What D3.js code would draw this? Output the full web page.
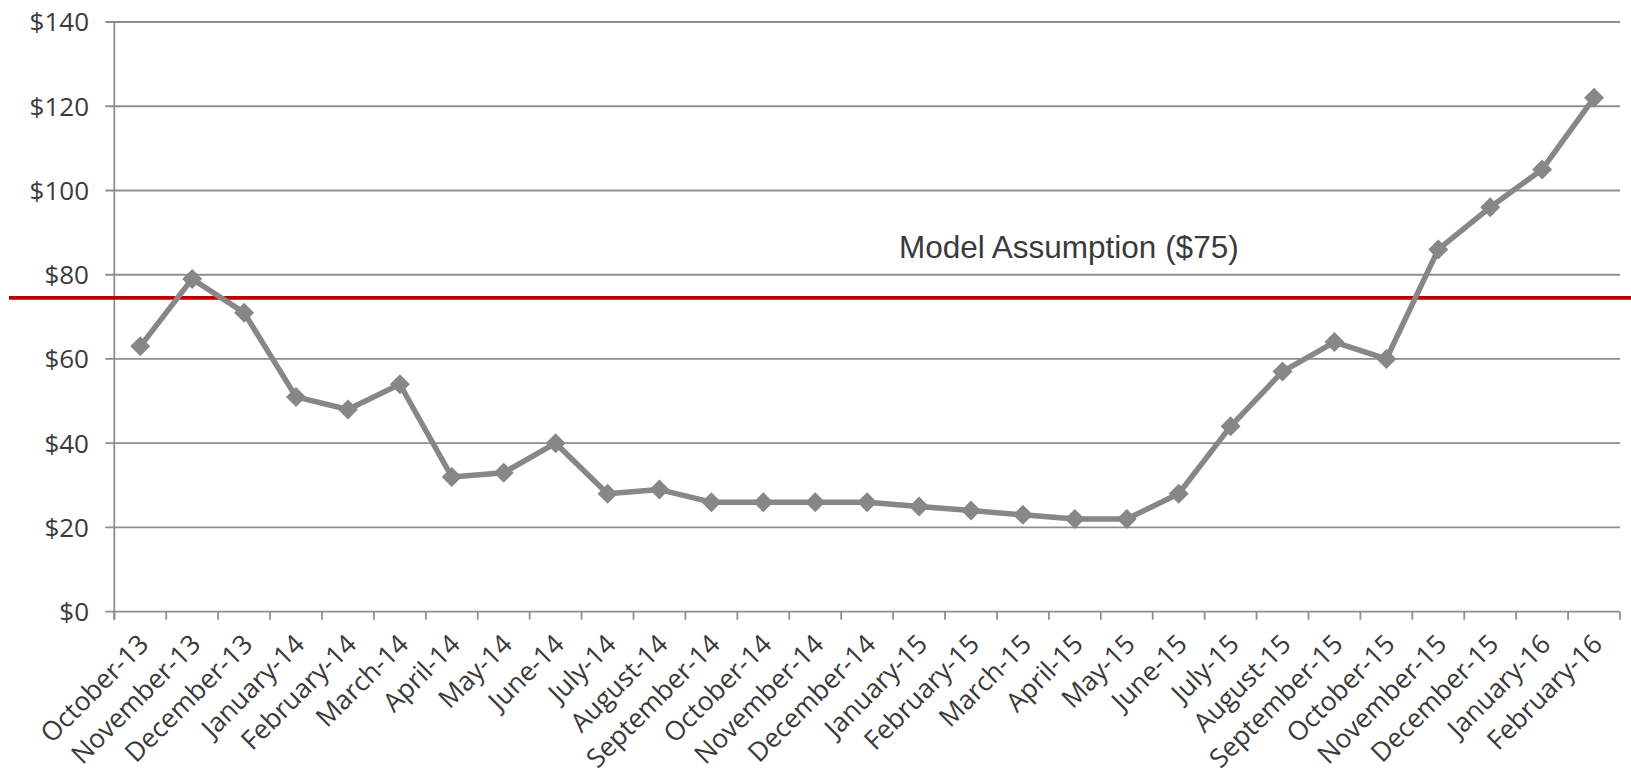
<!DOCTYPE html>
<html>
<head>
<meta charset="utf-8">
<script src="https://cdn.jsdelivr.net/npm/d3@7"></script>
<style>
  html, body { margin: 0; padding: 0; background: #ffffff; }
  svg { display: block; }
</style>
</head>
<body>
<svg id="chart" width="1631" height="774"></svg>
<script>
// ---- data ----
const categories = [
  "October-13", "November-13", "December-13", "January-14", "February-14",
  "March-14", "April-14", "May-14", "June-14", "July-14", "August-14",
  "September-14", "October-14", "November-14", "December-14", "January-15",
  "February-15", "March-15", "April-15", "May-15", "June-15", "July-15",
  "August-15", "September-15", "October-15", "November-15", "December-15",
  "January-16", "February-16"
];
const prices = [
  63, 79, 71, 51, 48, 54, 32, 33, 40, 28, 29, 26, 26, 26, 26, 25, 24, 23,
  22, 22, 28, 44, 57, 64, 60, 86, 96, 105, 122
];
const yTicks = [0, 20, 40, 60, 80, 100, 120, 140];
const assumptionLabel = "Model Assumption ($75)";
const assumptionLineValue = 74.5;

(function () {
// ---- layout ----
const svg = d3.select("#chart");
const plotLeft = 114.3, plotRight = 1620, plotTop = 22, plotBottom = 611.7;
const gridColor = "#8e8e8e";
const textColor = "#3a3a3a";
const seriesColor = "#878787";

const x = d3.scaleBand().domain(categories).range([plotLeft, plotRight]).paddingInner(0).paddingOuter(0);
const y = d3.scaleLinear().domain([0, 140]).range([plotBottom, plotTop]);
const cx = d => x(d) + x.bandwidth() / 2;

// gridlines + y ticks
svg.append("g").selectAll("line").data(yTicks).join("line")
  .attr("x1", plotLeft - 9).attr("x2", plotRight)
  .attr("y1", d => y(d)).attr("y2", d => y(d))
  .attr("stroke", gridColor).attr("stroke-width", 1.8);

// y labels
svg.append("g").selectAll("text").data(yTicks).join("text")
  .attr("x", 89).attr("y", d => y(d)).attr("dy", "0.36em")
  .attr("text-anchor", "end")
  .attr("font-family", "'Open Sans', sans-serif").attr("font-size", 26)
  .attr("fill", textColor)
  .text(d => "$" + d);

// y axis line
svg.append("line")
  .attr("x1", plotLeft).attr("x2", plotLeft).attr("y1", plotTop).attr("y2", plotBottom + 8)
  .attr("stroke", gridColor).attr("stroke-width", 1.8);

// x ticks at band boundaries
const boundaries = categories.map(c => x(c)).concat([plotRight]);
svg.append("g").selectAll("line").data(boundaries).join("line")
  .attr("x1", d => d).attr("x2", d => d)
  .attr("y1", plotBottom).attr("y2", plotBottom + 8)
  .attr("stroke", gridColor).attr("stroke-width", 1.8);

// x labels
svg.append("g").selectAll("text").data(categories).join("text")
  .attr("transform", d => `translate(${cx(d) + 10},${plotBottom + 34}) rotate(-45)`)
  .attr("text-anchor", "end")
  .attr("font-family", "'Open Sans', sans-serif").attr("font-size", 26.5)
  .attr("fill", textColor)
  .text(d => d);

// model assumption line
svg.append("line")
  .attr("x1", 9).attr("x2", 1631)
  .attr("y1", y(assumptionLineValue)).attr("y2", y(assumptionLineValue))
  .attr("stroke", "#c00000").attr("stroke-width", 3.8);

svg.append("text")
  .attr("x", 899).attr("y", 258.3)
  .attr("font-family", "'Liberation Sans', Arial, sans-serif").attr("font-size", 31.5)
  .attr("fill", textColor)
  .text(assumptionLabel);

// series line
const pts = categories.map((c, i) => [cx(c), y(prices[i])]);
svg.append("path")
  .attr("d", d3.line()(pts))
  .attr("fill", "none").attr("stroke", seriesColor)
  .attr("stroke-width", 5.5).attr("stroke-linejoin", "round");

// diamond markers
svg.append("g").selectAll("path").data(pts).join("path")
  .attr("transform", d => `translate(${d[0]},${d[1]}) rotate(45)`)
  .attr("d", d3.symbol(d3.symbolSquare, 200)())
  .attr("fill", seriesColor);
})();
</script>
</body>
</html>
